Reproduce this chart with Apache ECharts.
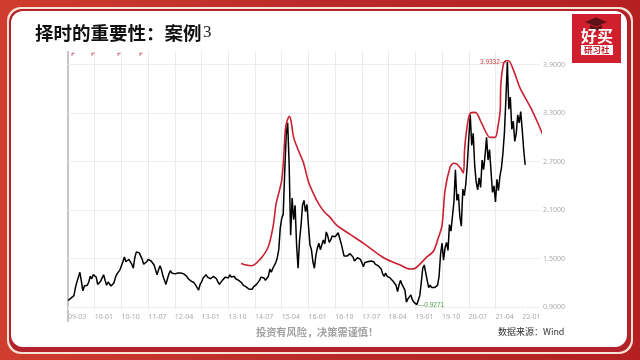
<!DOCTYPE html>
<html><head><meta charset="utf-8">
<style>html,body{margin:0;padding:0;background:#fff}#c{width:640px;height:360px}</style>
<script src="https://cdn.jsdelivr.net/npm/echarts@6/dist/echarts.min.js"></script>
</head><body><div id="c"></div>
<script>
const titleText = '择时的重要性：案例';
const titleNumber = '3';
const footerText = '投资有风险，决策需谨慎！';
const sourceText = '数据来源：Wind';
const tickLabels = ['09-03','10-01','10-10','11-07','12-04','13-01','13-10','14-07','15-04','16-01','16-10','17-07','18-04','19-01','19-10','20-07','21-04','22-01'];
const yTicks = [0.9,1.5,2.1,2.7,3.3,3.9];
const monthsPerTick = 9;
const totalMonths = 159;
// black: fund NAV, sampled every half month from 2009-03
const navValues = [
.98,.99,1.01,1.01,1.04,1.14,1.21,1.27,1.33,1.22,1.10,1.16,1.14,1.17,1.21,1.28,1.25,1.30,1.32,1.27,1.18,1.16,1.22,1.26,1.30,1.23,1.17,1.21,1.20,1.16,1.14,1.20,1.27,1.31,1.32,1.36,1.38,1.46,1.52,1.46,1.47,1.49,1.51,1.43,1.38,1.51,1.58,1.58,1.57,1.53,1.49,1.43,1.41,1.46,1.49,1.49,1.47,1.46,1.42,1.36,1.30,1.36,1.41,1.36,1.28,1.23,1.18,1.25,1.31,1.35,1.32,1.30,
1.31,1.33,1.32,1.31,1.32,1.33,1.31,1.30,1.28,1.25,1.26,1.22,1.23,1.20,1.17,1.16,1.11,1.18,1.21,1.26,1.28,1.30,1.27,1.26,1.25,1.27,1.28,1.30,1.25,1.21,1.18,1.20,1.23,1.25,1.27,1.28,1.26,1.30,1.27,1.26,1.28,1.25,1.26,1.23,1.25,1.20,1.17,1.18,1.15,1.14,1.12,1.11,1.12,1.15,1.16,1.18,1.20,1.23,1.27,1.28,1.26,1.23,1.25,1.28,1.37,1.33,1.38,1.40,1.45,1.51,1.61,
1.88,2.00,2.05,2.57,3.03,3.18,2.66,1.79,2.25,1.98,2.16,1.67,1.38,1.73,1.91,2.16,2.22,2.08,2.17,1.91,1.67,1.61,1.46,1.38,1.54,1.63,1.69,1.61,1.63,1.73,1.68,1.83,1.78,1.70,1.73,1.78,1.79,1.77,1.78,1.82,1.82,1.69,1.61,1.53,1.51,1.53,1.54,1.56,1.56,1.52,1.47,1.49,1.51,1.49,1.49,1.45,1.40,1.45,1.45,1.46,1.46,1.47,1.46,1.46,1.43,1.45,1.41,1.41,1.37,1.31,1.28,1.32,1.28,1.30,1.26,1.25,1.22,1.22,1.17,1.09,1.17,1.23,1.18,1.20,1.11,.96,1.00,1.01,1.05,.99,.96,.95,.9271,.94,1.04,1.20,1.38,1.42,1.43,1.23,1.14,1.17,1.14,1.16,1.14,1.15,1.17,1.28,
1.55,1.69,1.48,1.63,1.70,1.60,1.92,1.84,2.02,2.20,2.60,2.22,2.30,2.02,1.90,2.36,2.28,2.42,2.66,2.98,3.28,2.90,3.05,2.65,2.45,2.35,2.50,2.38,2.72,2.60,2.78,3.00,2.72,2.85,2.58,2.32,2.40,2.20,2.48,2.34,2.52,2.62,2.80,3.05,3.46,3.9332,3.35,3.50,3.10,3.20,2.95,3.05,3.28,3.18,3.32,3.10,2.85,2.66
];
// red: hand-drawn envelope
const envelopeMonths = [58.3,60,61.9,64.7,67.4,69.1,70.1,71,72,72.6,73.2,73.7,74.6,75.2,76,77.6,79.3,81,82.6,84.4,86.3,88.3,90.6,95,99.5,106.3,111.9,115.3,117,120.9,123.1,124.7,126,127,128.7,129.9,131,132.2,133.2,133.6,134.4,135.5,137.2,139.4,142.2,143.9,144.9,145.6,145.8,146.7,147.6,148.4,150.1,152.3,155.7,158,160];
const envelopeValues = [1.44,1.42,1.41,1.49,1.64,1.90,2.18,2.31,2.47,2.72,3.09,3.19,3.26,3.19,3.00,2.84,2.69,2.45,2.31,2.18,2.08,2.01,1.91,1.80,1.69,1.51,1.42,1.37,1.38,1.52,1.59,1.75,1.91,2.34,2.63,2.68,2.67,2.62,2.56,2.85,3.12,3.30,3.31,3.17,3.00,3.00,3.15,3.34,3.65,3.91,3.95,3.95,3.83,3.61,3.38,3.20,3.03];
const signalMonths = [1.7,8.4,17.2,24.6];
const signalLevel = 4.03;

const chart = echarts.init(document.getElementById('c'), null, {renderer:'canvas'});
const CJK = '"Noto Sans CJK SC","Noto Sans",sans-serif';
const tickMonths = tickLabels.map((_, i) => i * monthsPerTick);
chart.setOption({
  animation:false,
  backgroundColor:new echarts.graphic.LinearGradient(0,0,1,0,[{offset:0,color:'#cf3d2e'},{offset:.5,color:'#bb2a2a'},{offset:1,color:'#b3201f'}]),
  grid:{left:68,top:51,width:472,height:256},
  xAxis:{type:'value',min:0,max:totalMonths,interval:monthsPerTick,
    axisLine:{show:false},
    axisTick:{show:true,length:3,lineStyle:{color:'#ececec'},customValues:tickMonths},
    splitLine:{show:true,showMaxLine:false,showMinLine:false,lineStyle:{color:'#eaeaea',width:1}},
    axisLabel:{customValues:tickMonths,align:'left',margin:6,fontSize:7,color:'#aaa',fontFamily:'"Noto Sans",sans-serif',
      formatter:v=>tickLabels[Math.round(v/monthsPerTick)]||''}},
  yAxis:{type:'value',position:'right',min:0.9,max:4.07,interval:0.6,
    axisLine:{show:false},axisTick:{show:false},
    splitLine:{show:true,showMaxLine:false,lineStyle:{color:'#eeeeee',width:1}},
    axisLabel:{customValues:yTicks,margin:3,fontSize:7,color:'#aaa',fontFamily:'"Noto Sans",sans-serif',formatter:v=>v.toFixed(4)}},
  graphic:{elements:[
    {type:'rect',z:-3,silent:true,shape:{x:7,y:7,width:626,height:347,r:14},style:{fill:'#f6e3d6'}},
    {type:'rect',z:-2,silent:true,shape:{x:9,y:9,width:622,height:343,r:13},style:{fill:'#b3222b'}},
    {type:'rect',z:-1,silent:true,shape:{x:11,y:11,width:616,height:336,r:12},style:{fill:'#fff'}},
    {type:'line',silent:true,shape:{x1:68,y1:51,x2:68,y2:322},style:{stroke:'#8c8c8c',lineWidth:1}},
    {type:'text',x:35,y:24,style:{text:titleText,font:'bold 18.5px '+CJK,fill:'#111'}},
    {type:'text',x:203,y:24,style:{text:titleNumber,font:'17px "Liberation Serif",serif',fill:'#222'}},
    {type:'text',x:256,y:327,style:{text:footerText,font:'bold 10.2px '+CJK,fill:'#a2a2a2'}},
    {type:'text',x:498,y:327,style:{text:sourceText,font:'9px '+CJK,fill:'#333'}},
    {type:'rect',silent:true,shape:{x:572,y:14,width:49,height:49},style:{fill:'#d0202e'}},
    {type:'polygon',silent:true,shape:{points:[[585,22],[596,17.5],[607,22],[596,26.5]]},style:{fill:'#5c1216'}},
    {type:'polygon',silent:true,shape:{points:[[590,25],[596,27.5],[602,25],[602,30],[590,30]]},style:{fill:'#5c1216'}},
    {type:'text',x:581,y:28,style:{text:'好买',font:'bold 16px '+CJK,fill:'#fff'}},
    {type:'rect',silent:true,shape:{x:581,y:45,width:32,height:10},style:{fill:'#fff'}},
    {type:'text',x:584,y:45.5,style:{text:'研习社',font:'bold 8.5px '+CJK,fill:'#c8202c'}}
  ]},
  series:[
    {type:'line',name:'净值',data:navValues.map((v,i)=>[i/2,v]),showSymbol:false,z:3,
      lineStyle:{color:'#000',width:1.5},
      markPoint:{symbol:'circle',symbolSize:0,data:[
        {type:'max',valueDim:'y',label:{position:'left',distance:1,formatter:p=>p.value.toFixed(4)+'—',fontSize:6.5,color:'#c8434a'}},
        {type:'min',valueDim:'y',label:{position:'right',distance:1,formatter:p=>'—'+p.value.toFixed(4),fontSize:6.5,color:'#4e9a4e'}}
      ]}},
    {type:'line',name:'包络',data:envelopeMonths.map((m,i)=>[m,envelopeValues[i]]),showSymbol:false,smooth:0.3,clip:false,z:4,
      lineStyle:{color:'#c9202f',width:1.6}},
    {type:'scatter',name:'信号',data:signalMonths.map(m=>[m,signalLevel]),symbol:'path://M0 0H4V1.4H1.4V4H0Z',symbolSize:3,z:4,
      itemStyle:{color:'#c2334a'}}
  ]
});
</script></body></html>
